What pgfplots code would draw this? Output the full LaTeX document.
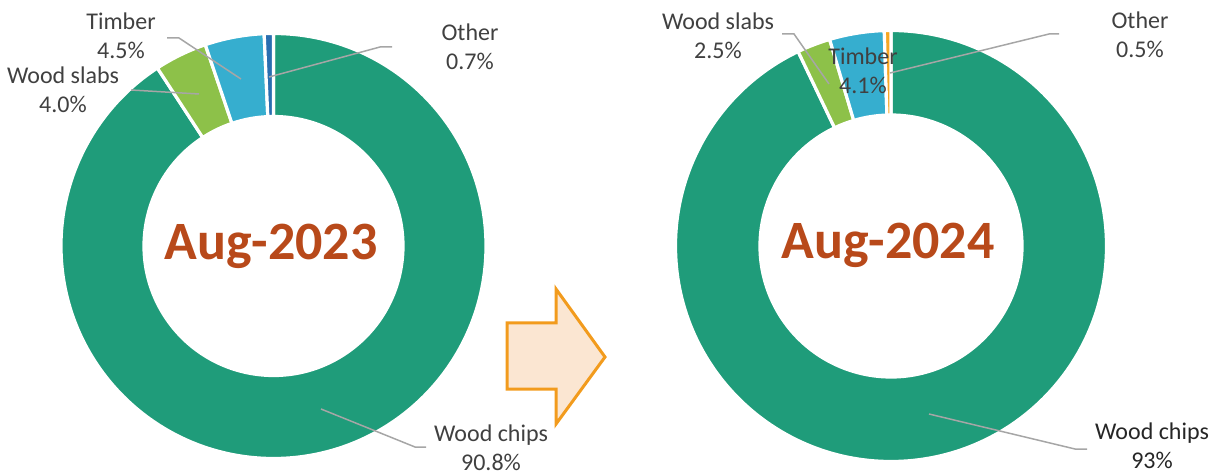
\documentclass[border=0pt]{standalone}
\usepackage{pgfplots}
\pgfplotsset{compat=1.18}
\usepackage{pgfplotstable}
\usepackage{fontspec}
\setmainfont{Carlito}
\definecolor{cchips}{HTML}{1F9C7A}
\definecolor{cslabs}{HTML}{8DC149}
\definecolor{ctimber}{HTML}{36AECF}
\definecolor{cotherA}{HTML}{2A6EB0}
\definecolor{cotherB}{HTML}{F5A623}
\definecolor{ctitle}{HTML}{B8491A}
\definecolor{ctext}{HTML}{404040}
\definecolor{cleader}{HTML}{A6A6A6}
\definecolor{arrowfill}{HTML}{FBE6D2}
\definecolor{arrowline}{HTML}{F29B1D}

\tikzset{
  lbl/.style={font=\fontsize{12}{14.5}\selectfont, text=ctext, align=center, inner sep=0pt},
  ttl/.style={font=\fontsize{27}{29}\selectfont\bfseries, text=ctitle, inner sep=0pt}}
\pgfplotsset{leader/.style={draw=cleader, line width=0.75pt, mark=none, forget plot}}

\pgfplotstableread{
name value col
chips 90.8 cchips
slabs 4.0 cslabs
timber 4.5 ctimber
other 0.7 cotherA
}\dataA
\pgfplotstableread{
name value col
chips 93.0 cchips
slabs 2.5 cslabs
timber 4.1 ctimber
other 0.5 cotherB
}\dataB

% #1 table, #2 cx, #3 cy (axis units = px), #4 outer radius, #5 inner radius
\newcommand\donut[5]{%
  \pgfplotstablegetrowsof{#1}%
  \pgfmathtruncatemacro\lastrow{\pgfplotsretval-1}%
  \gdef\tot{0}%
  \foreach \i in {0,...,\lastrow}{%
    \pgfplotstablegetelem{\i}{value}\of{#1}%
    \pgfmathsetmacro\tmp{\tot+\pgfplotsretval}\global\let\tot\tmp}%
  \gdef\cum{0}%
  \foreach \i in {0,...,\lastrow}{%
    \pgfplotstablegetelem{\i}{value}\of{#1}\let\myv\pgfplotsretval
    \pgfplotstablegetelem{\i}{col}\of{#1}\let\myc\pgfplotsretval
    \pgfmathsetmacro\aone{90-360*(\cum/\tot)}%
    \pgfmathsetmacro\newcum{\cum+\myv}%
    \pgfmathsetmacro\atwo{90-360*(\newcum/\tot)}%
    \global\let\cum\newcum
    \fill[fill=\myc, draw=white, line width=1.6pt, shift={(axis cs:#2,#3)}]
      (\aone:#4) arc[start angle=\aone, end angle=\atwo, radius=#4]
      -- (\atwo:#5) arc[start angle=\atwo, end angle=\aone, radius=#5] -- cycle;
  }%
}

\begin{document}
\begin{tikzpicture}
\begin{axis}[name=ax, hide axis, scale only axis,
  width=607pt, height=237.5pt,
  xmin=0, xmax=1214, ymin=0, ymax=475, y dir=reverse, clip=false]

\pgfplotsextra{\donut{\dataA}{273.5}{246}{106.25pt}{64.75pt}}
\pgfplotsextra{\donut{\dataB}{891}{246}{107.75pt}{65.5pt}}

% arrow
\addplot[fill=arrowfill, draw=arrowline, line width=1.5pt, mark=none, forget plot]
  coordinates {(507,323) (556,323) (556,289) (605,357) (556,424) (556,389) (507,389)} -- cycle;

% leader lines, left
\addplot[leader] coordinates {(167,38) (179,38) (241,79)};
\addplot[leader] coordinates {(131,90) (199,94)};
\addplot[leader] coordinates {(392,47) (380,47) (269,77)};
\addplot[leader] coordinates {(321,409) (415,447) (426,447)};
% leader lines, right
\addplot[leader] coordinates {(782,34) (794,34) (829,84)};
\addplot[leader] coordinates {(1059,34) (1049,34) (890,73)};
\addplot[leader] coordinates {(929,414) (1075,449) (1087,449)};

% labels left
\node[lbl] at (axis cs:121,36) {Timber\\4.5\%};
\node[lbl] at (axis cs:63,90) {Wood slabs\\4.0\%};
\node[lbl] at (axis cs:470,47) {Other\\0.7\%};
\node[lbl] at (axis cs:491,448) {Wood chips\\90.8\%};
% labels right
\node[lbl] at (axis cs:718,36) {Wood slabs\\2.5\%};
\node[lbl] at (axis cs:863,71) {Timber\\4.1\%};
\node[lbl] at (axis cs:1140,35) {Other\\0.5\%};
\node[lbl, text=black!85] at (axis cs:1152,446) {Wood chips\\93\%};

% titles
\node[ttl] at (axis cs:271,246) {Aug-2023};
\node[ttl] at (axis cs:888,245) {Aug-2024};
\end{axis}
\pgfresetboundingbox
\useasboundingbox (ax.south west) rectangle (ax.north east);
\end{tikzpicture}
\end{document}
